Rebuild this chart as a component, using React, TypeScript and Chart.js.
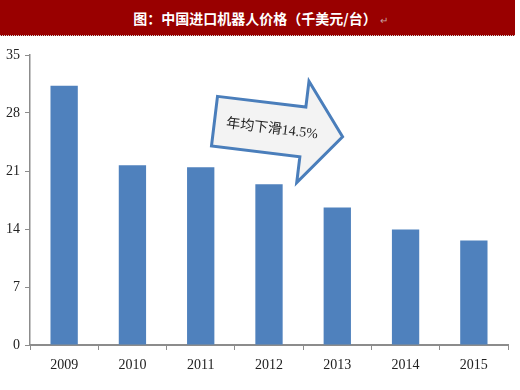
import React, { useEffect, useRef } from "react";
import { Chart, registerables } from "chart.js";

Chart.register(...registerables);

const categories = ["2009", "2010", "2011", "2012", "2013", "2014", "2015"];
const prices = [31.3, 21.7, 21.45, 19.4, 16.6, 13.95, 12.6];
const yMax = 35;
const yStep = 7;
const titleText = "图：中国进口机器人价格（千美元/台）";
const arrowText = "年均下滑14.5%";

const arrowPlugin = {
  id: "arrowNote",
  afterDatasetsDraw(chart: any) {
    const ctx = chart.ctx as CanvasRenderingContext2D;
    // origin: left-middle of arrow body, canvas coords
    const ox = 214.5;
    const oy = 83.2;
    const ang = (6.9 * Math.PI) / 180;
    ctx.save();
    ctx.translate(ox, oy);
    ctx.rotate(ang);
    ctx.beginPath();
    ctx.moveTo(0, -25);
    ctx.lineTo(89, -25);
    ctx.lineTo(89, -51);
    ctx.lineTo(129, 0);
    ctx.lineTo(89, 51);
    ctx.lineTo(89, 25);
    ctx.lineTo(0, 25);
    ctx.closePath();
    ctx.fillStyle = "#f3f3f3";
    ctx.fill();
    ctx.lineWidth = 3;
    ctx.strokeStyle = "#4a7ebb";
    ctx.lineJoin = "miter";
    ctx.stroke();
    ctx.fillStyle = "#222222";
    ctx.font = '14px "Liberation Serif", "Noto Sans CJK SC", serif';
    ctx.textAlign = "center";
    ctx.textBaseline = "middle";
    ctx.fillText(arrowText, 58, 1);
    ctx.restore();
  },
};

export default function App() {
  const canvasRef = useRef<HTMLCanvasElement | null>(null);

  useEffect(() => {
    document.body.style.margin = "0";
    const canvas = canvasRef.current;
    if (!canvas) return;
    const chart = new Chart(canvas, {
      type: "bar",
      data: {
        labels: categories,
        datasets: [
          {
            data: prices,
            backgroundColor: "#4f81bd",
            borderWidth: 0,
            barPercentage: 0.4,
            categoryPercentage: 1,
          },
        ],
      },
      options: {
        animation: false,
        responsive: false,
        maintainAspectRatio: false,
        layout: { padding: { left: 0, right: 12, top: 17, bottom: 0 } },
        plugins: {
          legend: { display: false },
          tooltip: { enabled: false },
          title: { display: false },
        },
        scales: {
          x: {
            grid: {
              offset: true,
              drawOnChartArea: false,
              drawTicks: true,
              tickLength: 5,
              color: "#8c8c8c",
              lineWidth: 1,
            },
            border: { color: "#8c8c8c", width: 2 },
            ticks: {
              color: "#222222",
              padding: 7,
              font: { family: '"Liberation Serif", serif', size: 14 },
            },
            afterFit: (s: any) => {
              s.height = 45;
            },
          },
          y: {
            min: 0,
            max: yMax,
            ticks: {
              stepSize: yStep,
              color: "#222222",
              padding: 5,
              font: { family: '"Liberation Serif", serif', size: 14 },
            },
            grid: {
              drawOnChartArea: false,
              drawTicks: true,
              tickLength: 5,
              color: "#8c8c8c",
              lineWidth: 1,
            },
            border: { color: "#8c8c8c", width: 1.5 },
            afterFit: (s: any) => {
              s.width = 30;
            },
          },
        },
      },
      plugins: [arrowPlugin],
    });
    return () => chart.destroy();
  }, []);

  return (
    <div style={{ width: 520, height: 390, position: "relative", background: "#ffffff", overflow: "hidden" }}>
      <div
        style={{
          position: "absolute",
          left: 0,
          top: 0,
          width: 515,
          height: 35,
          background: "#990000",
          display: "flex",
          alignItems: "center",
          justifyContent: "center",
          color: "#ffffff",
          fontFamily: '"Noto Sans CJK SC", sans-serif',
          fontWeight: 700,
          fontSize: 14,
          borderBottom: "1px dotted #cccccc",
        }}
      >
        <span style={{ marginLeft: 6 }}>{titleText}</span>
        <span style={{ color: "#c8a0a0", fontSize: 10, fontWeight: 400, marginLeft: 3, marginTop: 4 }}>↵</span>
      </div>
      <div style={{ position: "absolute", left: 0, top: 38, width: 520, height: 352 }}>
        <canvas ref={canvasRef} width={520} height={352} style={{ width: 520, height: 352 }} />
      </div>
    </div>
  );
}
